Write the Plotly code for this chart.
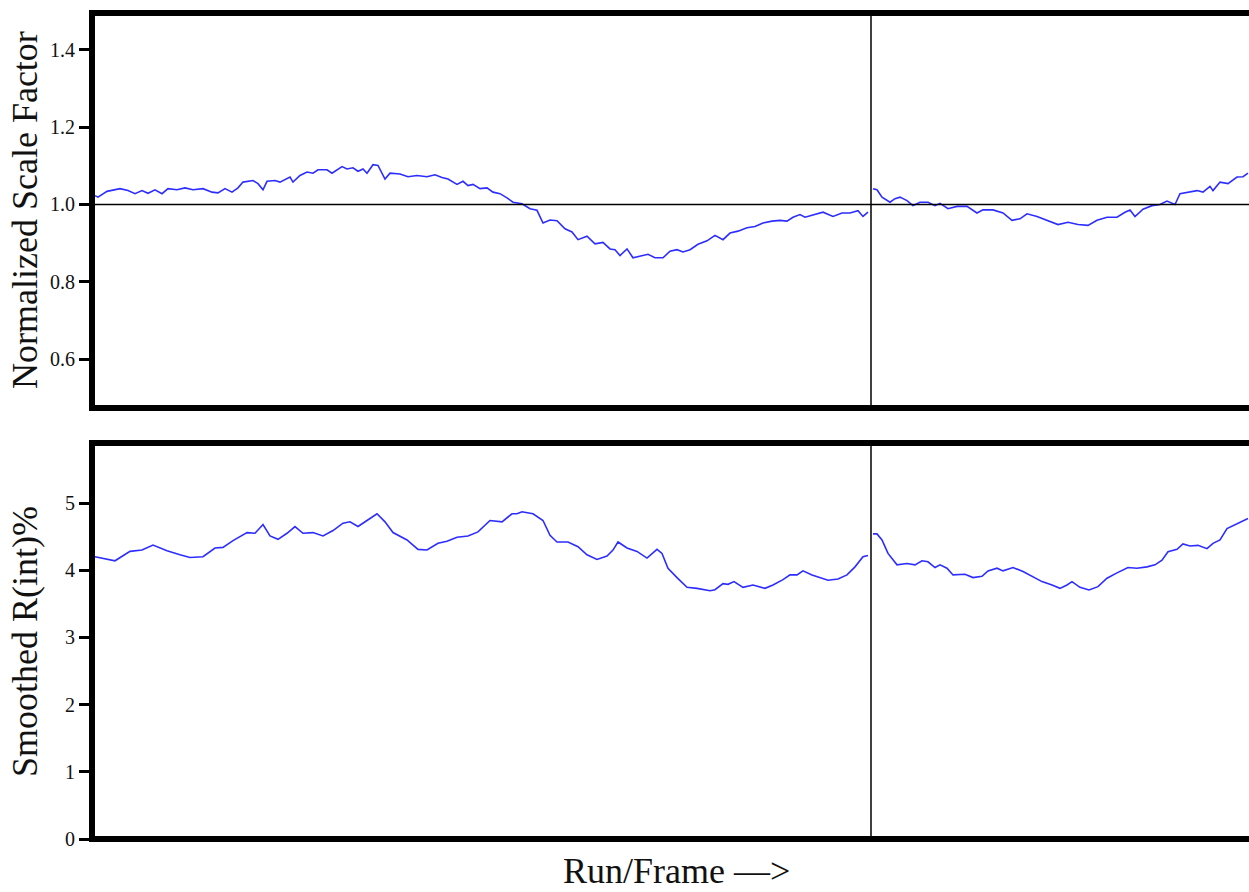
import plotly.graph_objects as go

# Frame index along the run sequence; run 2 starts after frame 776
RUN_BOUNDARY = 776
X_MIN, X_MAX = -3, 1154

# Normalized scale factor, run 1
scale_frames_run1 = [0, 3, 12, 18, 25, 33, 40, 47, 53, 60, 67, 73, 82, 90, 98, 108, 117, 123, 130, 137,
                     143, 148, 158, 163, 168, 172, 180, 185, 190, 195, 198, 205, 212, 218, 223, 232, 237,
                     247, 252, 258, 263, 268, 272, 278, 283, 290, 295, 305, 313, 322, 332, 340, 347, 353,
                     362, 368, 373, 378, 385, 392, 398, 405, 412, 418, 427, 435, 442, 448, 455, 462, 470,
                     477, 483, 492, 500, 508, 515, 520, 525, 532, 538, 547, 553, 560, 568, 575, 582, 588,
                     595, 603, 612, 620, 628, 635, 643, 652, 660, 668, 677, 685, 692, 698, 705, 710, 718,
                     728, 738, 747, 755, 763, 768, 773]
scale_run1 = [1.023, 1.019, 1.034, 1.038, 1.041, 1.036, 1.028, 1.036, 1.029, 1.038, 1.028, 1.041, 1.038,
              1.043, 1.038, 1.041, 1.032, 1.030, 1.041, 1.032, 1.043, 1.058, 1.062, 1.054, 1.038, 1.060,
              1.062, 1.058, 1.064, 1.071, 1.058, 1.075, 1.084, 1.081, 1.090, 1.090, 1.081, 1.098, 1.092,
              1.095, 1.086, 1.092, 1.081, 1.103, 1.101, 1.066, 1.081, 1.079, 1.072, 1.075, 1.072, 1.077,
              1.070, 1.066, 1.052, 1.060, 1.049, 1.052, 1.041, 1.043, 1.032, 1.028, 1.017, 1.006, 1.002,
              0.989, 0.985, 0.952, 0.960, 0.958, 0.937, 0.929, 0.909, 0.918, 0.898, 0.902, 0.885, 0.883,
              0.868, 0.885, 0.862, 0.868, 0.871, 0.862, 0.862, 0.879, 0.883, 0.877, 0.883, 0.897, 0.906,
              0.920, 0.909, 0.926, 0.931, 0.940, 0.943, 0.952, 0.957, 0.959, 0.957, 0.967, 0.974, 0.967,
              0.972, 0.980, 0.969, 0.978, 0.978, 0.984, 0.969, 0.980]

# Normalized scale factor, run 2
scale_frames_run2 = [778, 782, 787, 795, 800, 805, 812, 818, 825, 833, 840, 845, 853, 862, 872, 882, 888,
                     898, 908, 917, 925, 932, 942, 952, 963, 973, 983, 993, 1002, 1012, 1022, 1030, 1035,
                     1040, 1048, 1057, 1065, 1072, 1080, 1085, 1093, 1102, 1108, 1115, 1118, 1125, 1133,
                     1142, 1148, 1153]
scale_run2 = [1.041, 1.038, 1.019, 1.006, 1.015, 1.019, 1.010, 0.997, 1.006, 1.006, 0.997, 1.003, 0.989,
              0.995, 0.995, 0.978, 0.986, 0.986, 0.978, 0.959, 0.963, 0.976, 0.969, 0.959, 0.948, 0.954,
              0.948, 0.946, 0.959, 0.967, 0.967, 0.980, 0.986, 0.969, 0.988, 0.997, 1.000, 1.009, 1.000,
              1.028, 1.032, 1.036, 1.032, 1.047, 1.036, 1.058, 1.054, 1.071, 1.072, 1.081]

# Smoothed R(int)%, run 1
rint_frames_run1 = [0, 12, 20, 35, 47, 58, 72, 85, 95, 108, 120, 128, 138, 152, 160, 168, 175, 183, 192,
                    200, 208, 218, 228, 238, 248, 255, 263, 272, 282, 290, 298, 312, 323, 332, 343, 352,
                    362, 373, 383, 395, 407, 417, 422, 427, 438, 448, 455, 462, 473, 483, 492, 502, 512,
                    518, 523, 532, 542, 552, 562, 567, 573, 582, 592, 602, 615, 620, 628, 633, 639, 648,
                    658, 670, 678, 688, 695, 702, 708, 717, 725, 733, 743, 752, 760, 768, 773]
rint_run1 = [4.20, 4.16, 4.14, 4.28, 4.30, 4.375, 4.29, 4.23, 4.19, 4.20, 4.33, 4.34, 4.44, 4.56, 4.55,
             4.68, 4.51, 4.46, 4.55, 4.65, 4.55, 4.56, 4.51, 4.59, 4.70, 4.72, 4.65, 4.74, 4.84, 4.72,
             4.56, 4.45, 4.31, 4.30, 4.40, 4.43, 4.49, 4.51, 4.57, 4.74, 4.72, 4.84, 4.84, 4.87, 4.84,
             4.74, 4.52, 4.42, 4.42, 4.35, 4.23, 4.16, 4.21, 4.30, 4.42, 4.33, 4.28, 4.18, 4.31, 4.25,
             4.03, 3.89, 3.745, 3.73, 3.695, 3.71, 3.80, 3.79, 3.83, 3.745, 3.78, 3.73, 3.78, 3.86, 3.93,
             3.93, 3.99, 3.93, 3.89, 3.85, 3.87, 3.93, 4.05, 4.20, 4.22]

# Smoothed R(int)%, run 2
rint_frames_run2 = [778, 782, 787, 793, 802, 812, 820, 827, 833, 840, 845, 852, 858, 870, 878, 887, 893,
                    902, 908, 918, 928, 937, 947, 957, 965, 972, 977, 985, 994, 1003, 1012, 1022, 1033,
                    1042, 1052, 1060, 1067, 1073, 1082, 1088, 1095, 1103, 1112, 1118, 1125, 1132, 1138,
                    1145, 1153]
rint_run2 = [4.54, 4.54, 4.45, 4.25, 4.08, 4.10, 4.08, 4.14, 4.125, 4.04, 4.08, 4.03, 3.93, 3.94, 3.89,
             3.91, 3.99, 4.03, 3.99, 4.04, 3.98, 3.91, 3.83, 3.78, 3.73, 3.78, 3.83, 3.745, 3.705, 3.755,
             3.88, 3.96, 4.04, 4.03, 4.05, 4.08, 4.15, 4.275, 4.31, 4.39, 4.36, 4.37, 4.32, 4.40, 4.45,
             4.62, 4.66, 4.71, 4.77]

scale_ticks = [0.6, 0.8, 1.0, 1.2, 1.4]
rint_ticks = [0, 1, 2, 3, 4, 5]

W, H = 1249, 892
SERIF = "Liberation Serif, Times New Roman, serif"
LINE_COLOR = "rgb(45,45,255)"
TEXT_COLOR = "#111111"
FRAME_W = 6

# Panel edges in pixels (frame lines are centred on these)
LEFT = 92
TOP1, BOT1 = 13, 408
TOP2, BOT2 = 443, 839


def fx(px):
    return px / W


def fy(px):
    """Convert a pixel row (from the top) into a paper fraction."""
    return (H - px) / H


fig = go.Figure()

for frames, vals in ((scale_frames_run1, scale_run1), (scale_frames_run2, scale_run2)):
    fig.add_trace(go.Scatter(x=frames, y=vals, mode="lines", xaxis="x", yaxis="y",
                             line=dict(color=LINE_COLOR, width=1.6), showlegend=False,
                             hoverinfo="skip"))
for frames, vals in ((rint_frames_run1, rint_run1), (rint_frames_run2, rint_run2)):
    fig.add_trace(go.Scatter(x=frames, y=vals, mode="lines", xaxis="x2", yaxis="y2",
                             line=dict(color=LINE_COLOR, width=1.6), showlegend=False,
                             hoverinfo="skip"))

x_common = dict(range=[X_MIN, X_MAX], domain=[fx(LEFT), 1.0], showgrid=False, zeroline=False,
                showticklabels=False, ticks="", showline=False, automargin=False, fixedrange=True)
y_common = dict(showgrid=False, zeroline=False, showline=False, automargin=False,
                ticks="outside", ticklen=12, tickwidth=3, tickcolor="black",
                tickfont=dict(family=SERIF, size=20, color=TEXT_COLOR), fixedrange=True)


def frame_lines(top, bot):
    """Thick frame on the top, bottom and left of a panel (right side runs off the page)."""
    half = FRAME_W / 2
    style = dict(color="black", width=FRAME_W)
    return [
        dict(type="line", xref="paper", yref="paper", x0=fx(LEFT - half), x1=1.0,
             y0=fy(top), y1=fy(top), line=style, layer="above"),
        dict(type="line", xref="paper", yref="paper", x0=fx(LEFT - half), x1=1.0,
             y0=fy(bot), y1=fy(bot), line=style, layer="above"),
        dict(type="line", xref="paper", yref="paper", x0=fx(LEFT), x1=fx(LEFT),
             y0=fy(top - half), y1=fy(bot + half), line=style, layer="above"),
    ]


shapes = frame_lines(TOP1, BOT1) + frame_lines(TOP2, BOT2) + [
    # reference level at 1.0
    dict(type="line", xref="x domain", yref="y", x0=0, x1=1, y0=1.0, y1=1.0,
         line=dict(color="black", width=1.5)),
    # run boundary
    dict(type="line", xref="x", yref="y domain", x0=RUN_BOUNDARY, x1=RUN_BOUNDARY, y0=0, y1=1,
         line=dict(color="black", width=1.5)),
    dict(type="line", xref="x2", yref="y2 domain", x0=RUN_BOUNDARY, x1=RUN_BOUNDARY, y0=0, y1=1,
         line=dict(color="black", width=1.5)),
]

fig.update_layout(
    width=W, height=H,
    margin=dict(l=0, r=0, t=0, b=0, autoexpand=False),
    paper_bgcolor="white", plot_bgcolor="white",
    xaxis=dict(anchor="y", **x_common),
    xaxis2=dict(anchor="y2", **x_common),
    yaxis=dict(anchor="x", domain=[fy(BOT1), fy(TOP1)], range=[0.4732, 1.4957],
               tickvals=scale_ticks, ticktext=[f"{v:.1f}" for v in scale_ticks], **y_common),
    yaxis2=dict(anchor="x2", domain=[fy(BOT2), fy(TOP2)], range=[0, 5.893],
                tickvals=rint_ticks, ticktext=[str(v) for v in rint_ticks], **y_common),
    shapes=shapes,
    annotations=[
        dict(text="Normalized Scale Factor", xref="paper", yref="paper", x=fx(25), y=fy(210),
             textangle=-90, showarrow=False, xanchor="center", yanchor="middle",
             font=dict(family=SERIF, size=36, color=TEXT_COLOR)),
        dict(text="Smoothed R(int)%", xref="paper", yref="paper", x=fx(25), y=fy(642),
             textangle=-90, showarrow=False, xanchor="center", yanchor="middle",
             font=dict(family=SERIF, size=36, color=TEXT_COLOR)),
        # axis caption sits flush with the bottom edge of the page
        dict(text="Run/Frame —>", xref="paper", yref="paper", x=fx(676), y=0,
             showarrow=False, xanchor="center", yanchor="bottom", borderpad=0,
             font=dict(family=SERIF, size=36, color=TEXT_COLOR)),
    ],
)

fig.write_html("out.html")
